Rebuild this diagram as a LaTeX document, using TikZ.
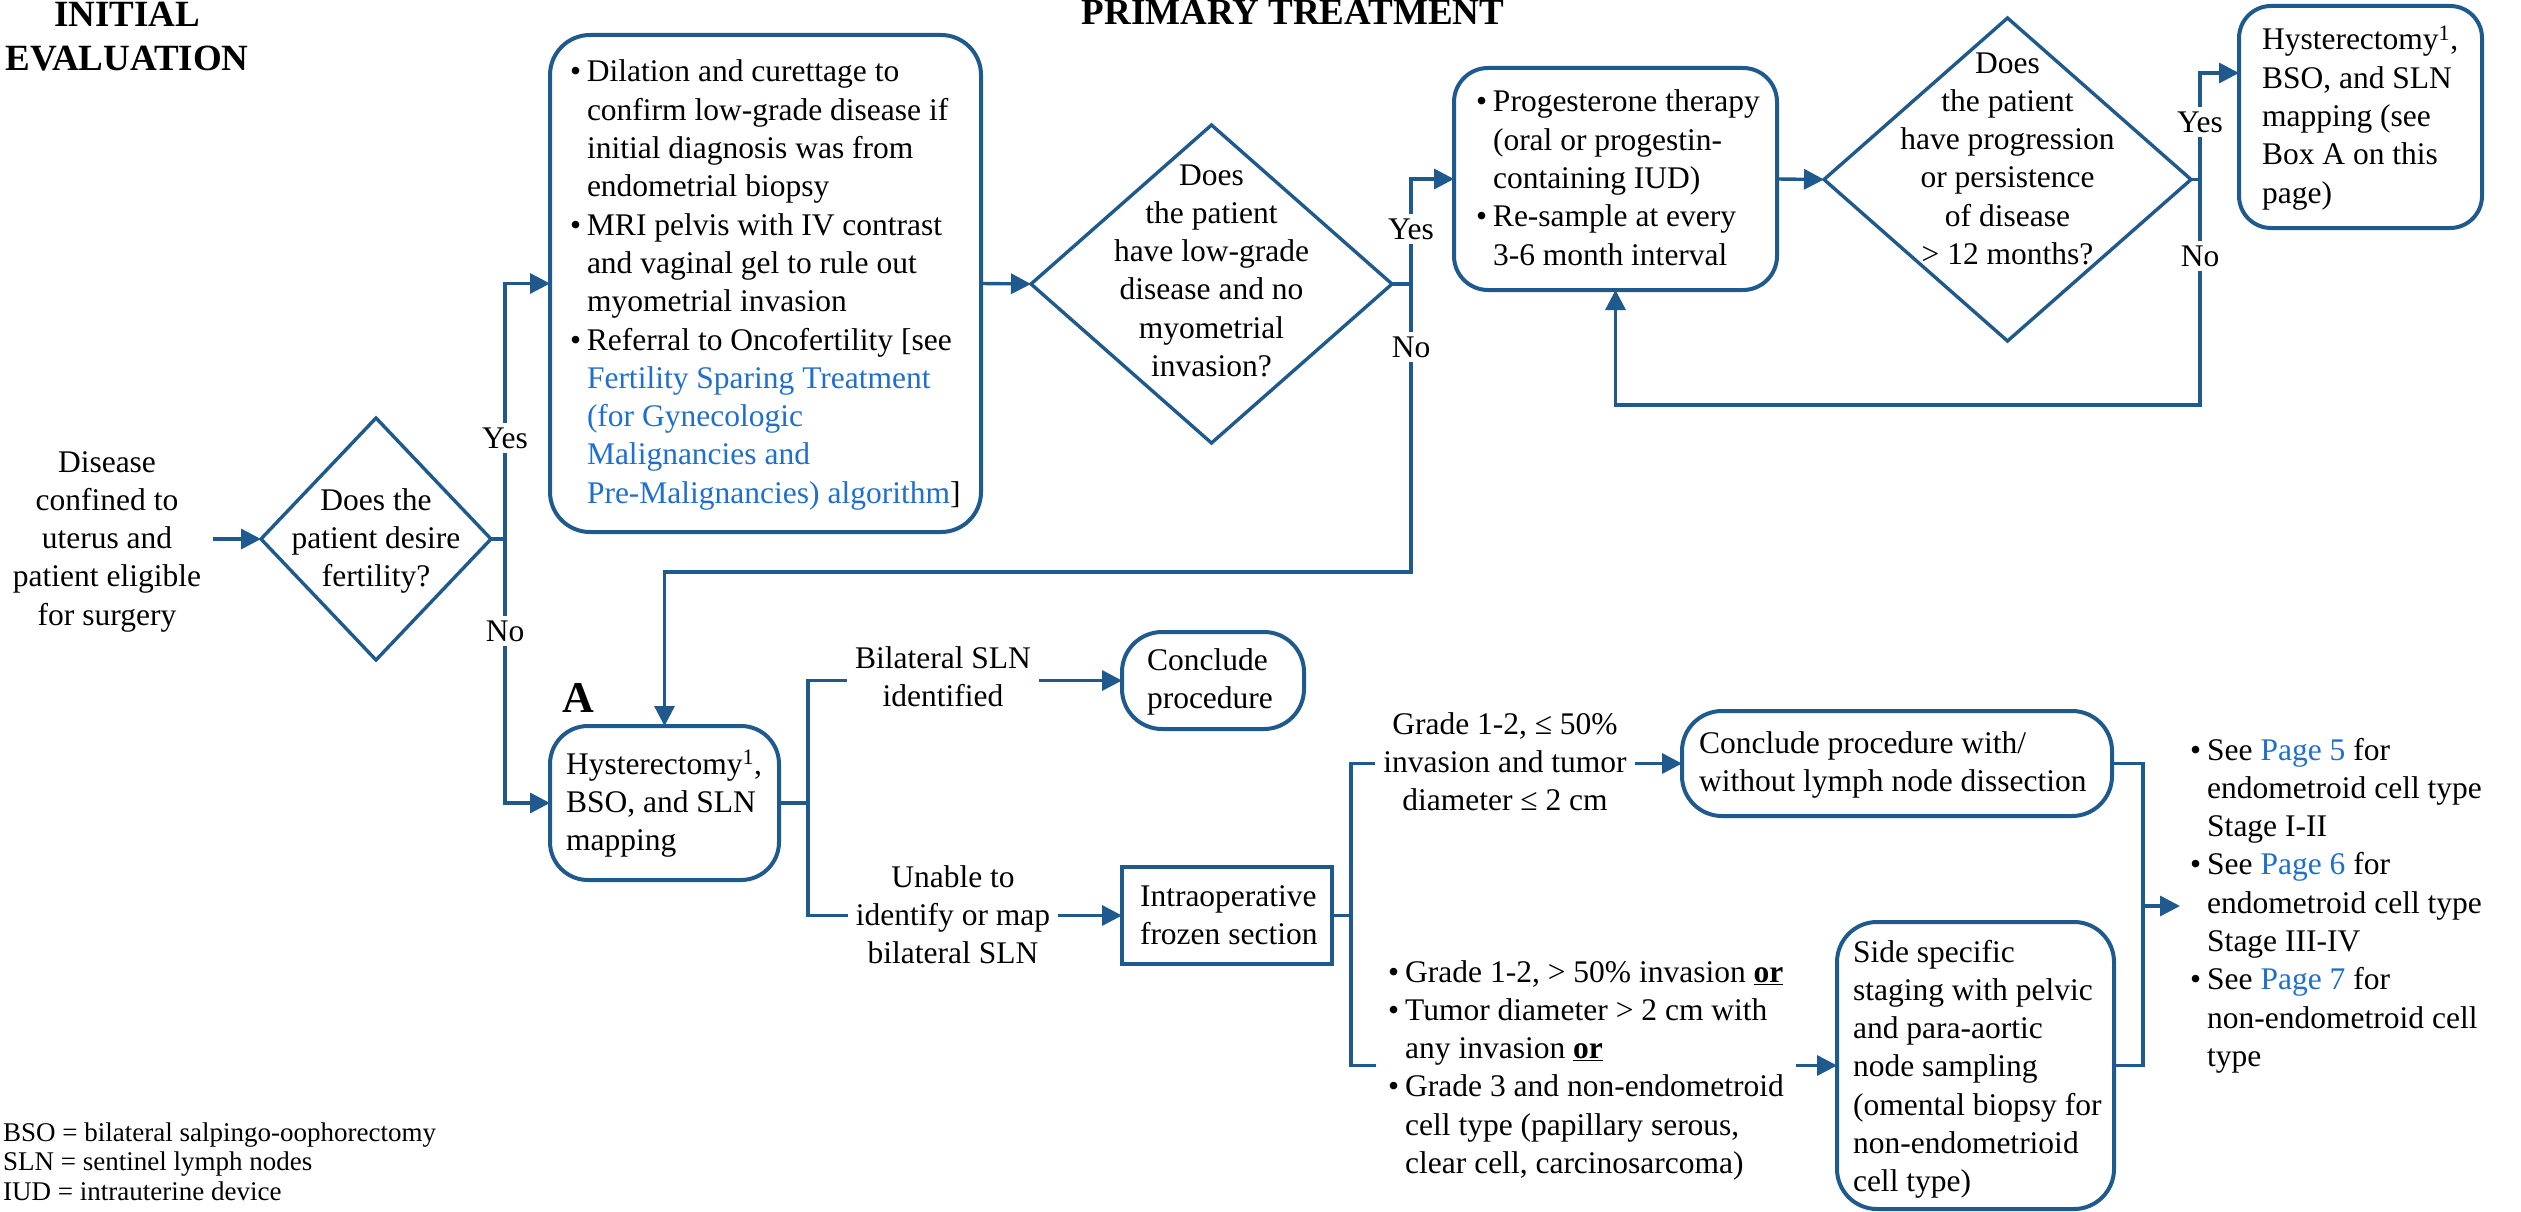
\documentclass[tikz,border=0pt]{standalone}
\usepackage{fontspec}
\setmainfont{Liberation Serif}
\usetikzlibrary{arrows.meta,shapes.geometric}

\definecolor{dblue}{RGB}{31,90,142}
\definecolor{lblue}{RGB}{31,111,207}

\newcommand\bodysz{\fontsize{31.5pt}{38.3pt}\selectfont}
\newcommand\headsz{\fontsize{37pt}{44pt}\selectfont\bfseries}
\newcommand\Ltab[1]{\begin{tabular}[t]{@{}l@{}}#1\end{tabular}}
\newcommand\Ctab[1]{\begin{tabular}[t]{@{}c@{}}#1\end{tabular}}
\newcommand\bul{\makebox[17pt][l]{\textbullet}}
\newcommand\hin{\hspace*{17pt}}
\newcommand\lnk[1]{\textcolor{lblue}{#1}}
\newcommand\ulb[1]{\underline{\textbf{#1}}}

\tikzset{
  rbox/.style={draw=dblue, line width=4pt, rounded corners=38pt, fill=white,
    inner ysep=0pt, outer sep=0pt, anchor=north west, font=\bodysz},
  sbox/.style={draw=dblue, line width=4pt, fill=white,
    inner ysep=0pt, outer sep=0pt, anchor=north west, font=\bodysz},
  dia/.style={diamond, draw=dblue, line width=3.4pt, inner sep=0pt, outer sep=0pt,
    text height=0pt, text depth=0pt, font=\bodysz},
  plain/.style={inner sep=0pt, font=\bodysz},
  head/.style={inner sep=0pt, font=\headsz, anchor=base},
  con/.style={draw=dblue, line width=3.4pt},
  arr/.style={con, -{Triangle[length=20pt,width=20pt]}},
  yn/.style={fill=white, inner xsep=4pt, inner ysep=5pt, font=\bodysz},
  elab/.style={fill=white, inner xsep=8pt, inner ysep=2pt, font=\bodysz, anchor=base}
}

\begin{document}
\begin{tikzpicture}[x=1pt,y=-1pt]
\useasboundingbox (0,0) rectangle (2521,1212);
\fill[white] (0,0) rectangle (2521,1212);

% column headings
\node[head] (hinit) at (127,27) {\Ctab{INITIAL\\EVALUATION}};
\node[head] (hprim) at (1293,25) {PRIMARY TREATMENT};

% starting condition
\node[plain, anchor=base, inner xsep=12pt] (st) at (107,472)
  {\Ctab{Disease\\confined to\\uterus and\\patient eligible\\for surgery}};

% decision: fertility
\node[dia, minimum width=230pt, minimum height=242pt] (d1) at (376,539)
  {\makebox[0pt]{\raisebox{29pt}{\Ctab{Does the\\patient desire\\fertility?}}}};

% fertility-sparing work-up
\node[rbox, rounded corners=40pt, inner xsep=20pt, text height=47pt, text depth=450pt] (b1) at (550,35)
  {\makebox[391pt][l]{\Ltab{%
  \bul Dilation and curettage to\\
  \hin confirm low-grade disease if\\
  \hin initial diagnosis was from\\
  \hin endometrial biopsy\\
  \bul MRI pelvis with IV contrast\\
  \hin and vaginal gel to rule out\\
  \hin myometrial invasion\\
  \bul Referral to Oncofertility [see\\
  \hin \lnk{Fertility Sparing Treatment}\\
  \hin \lnk{(for Gynecologic}\\
  \hin \lnk{Malignancies and}\\
  \hin \lnk{Pre-Malignancies) algorithm}]}}};

% decision: low-grade disease
\node[dia, minimum width=361pt, minimum height=318pt] (d2) at (1211.5,284)
  {\makebox[0pt]{\raisebox{99pt}{\Ctab{Does\\the patient\\have low-grade\\disease and no\\myometrial\\invasion?}}}};

% progesterone therapy
\node[rbox, rounded corners=34pt, inner xsep=22pt, text height=44pt, text depth=178pt] (b3) at (1454,68)
  {\makebox[279pt][l]{\Ltab{%
  \bul Progesterone therapy\\
  \hin(oral or progestin-\\
  \hin containing IUD)\\
  \bul Re-sample at every\\
  \hin 3-6 month interval}}};

% decision: progression
\node[dia, minimum width=367pt, minimum height=323pt] (d3) at (2007.5,179.5)
  {\makebox[0pt]{\raisebox{106.5pt}{\Ctab{Does\\the patient\\have progression\\or persistence\\of disease\\> 12 months?}}}};

% hysterectomy (after failed conservative treatment)
\node[rbox, rounded corners=32pt, inner xsep=23pt, text height=44pt, text depth=178pt] (b5) at (2239,6)
  {\makebox[197pt][l]{\Ltab{Hysterectomy\textsuperscript{1},\\BSO, and SLN\\mapping (see\\Box A on this\\page)}}};

% box A
\node[inner sep=0pt, font=\fontsize{44pt}{44pt}\selectfont\bfseries, anchor=base] (la) at (578,712) {A};
\node[rbox, inner xsep=16pt, text height=48pt, text depth=106pt] (hA) at (550,726)
  {\makebox[197pt][l]{\Ltab{Hysterectomy\textsuperscript{1},\\BSO, and SLN\\mapping}}};

\node[rbox, rounded corners=40pt, inner xsep=25pt, text height=38pt, text depth=59pt] (cp) at (1122,632)
  {\makebox[132pt][l]{\Ltab{Conclude\\procedure}}};

\node[sbox, inner xsep=18pt, text height=39pt, text depth=58pt] (io) at (1122,867)
  {\makebox[174pt][l]{\Ltab{Intraoperative\\frozen section}}};

\node[rbox, rounded corners=40pt, inner xsep=17pt, text height=42pt, text depth=63pt] (cw) at (1682,711)
  {\makebox[396pt][l]{\Ltab{Conclude procedure with/\\without lymph node dissection}}};

\node[rbox, rounded corners=40pt, inner xsep=16pt, text height=40pt, text depth=247pt] (ss) at (1837,922)
  {\makebox[245pt][l]{\Ltab{Side specific\\staging with pelvic\\and para-aortic\\node sampling\\(omental biopsy for\\non-endometrioid\\cell type)}}};

% follow-up references
\node[plain, anchor=base west, inner xsep=10pt] (rl) at (2180,760)
  {\Ltab{%
  \bul See \lnk{Page 5} for\\
  \hin endometroid cell type\\
  \hin Stage I-II\\
  \bul See \lnk{Page 6} for\\
  \hin endometroid cell type\\
  \hin Stage III-IV\\
  \bul See \lnk{Page 7} for\\
  \hin non-endometroid cell\\
  \hin type}};

% abbreviations
\node[anchor=base west, inner sep=0pt, font=\fontsize{27pt}{29.5pt}\selectfont] (lg) at (3,1141)
  {\Ltab{BSO = bilateral salpingo-oophorectomy\\SLN = sentinel lymph nodes\\IUD = intrauterine device}};

% ---- connectors ----
\draw[arr] (st.east |- d1.west) -- (d1.west);

\coordinate (s1) at (505,539);
\draw[con] (d1.east) -- (s1);
\draw[arr] (s1) |- (b1.west);
\draw[arr] (s1) |- (hA.west);

\draw[arr] (b1.east) -- (d2.west);

\coordinate (s2) at (1411,284);
\coordinate (k2) at (1411,572);
\draw[con] (d2.east) -- (s2);
\draw[arr] (s2) |- (b3.west);
\draw[arr] (s2) -- (k2) -| (hA.north);

\draw[arr] (b3.east) -- (d3.west);

\coordinate (s3) at (2200,179.5);
\coordinate (k3) at (2200,405);
\draw[con] (d3.east) -- (s3);
\draw[arr] (s3) |- ([yshift=44pt]b5.west);
\draw[arr] (s3) -- (k3) -| (b3.south);

\coordinate (s4) at (808,803);
\draw[con] (hA.east) -- (s4);
\draw[arr] (s4) |- (cp.west);
\draw[arr] (s4) |- (io.west);

\coordinate (s5) at (1351,915.5);
\draw[con] (io.east) -- (s5);
\draw[arr] (s5) |- (cw.west);
\draw[arr] (s5) |- (ss.west);

\coordinate (s6) at (2143,906);
\draw[con] (cw.east) -| (s6);
\draw[con] (ss.east) -| (s6);
\draw[arr] (s6) -- (s6 -| rl.west);

% ---- branch labels ----
\node[yn] (y1) at (505,438) {Yes};
\node[yn] (n1) at (505,631) {No};
\node[yn] (y2) at (1411,229) {Yes};
\node[yn] (n2) at (1411,347) {No};
\node[yn] (y3) at (2200,122) {Yes};
\node[yn] (n3) at (2200,256) {No};

\node[elab] (e1) at (943,668) {\Ctab{Bilateral SLN\\identified}};
\node[elab] (e2) at (953,887) {\Ctab{Unable to\\identify or map\\bilateral SLN}};
\node[elab] (e3) at (1505,734) {\Ctab{Grade 1-2, ≤ 50\%\\invasion and tumor\\diameter ≤ 2 cm}};
\node[elab, anchor=base west, inner xsep=12pt] (e4) at (1376,982)
  {\Ltab{%
  \bul Grade 1-2, > 50\% invasion \ulb{or}\\
  \bul Tumor diameter > 2 cm with\\
  \hin any invasion \ulb{or}\\
  \bul Grade 3 and non-endometroid\\
  \hin cell type (papillary serous,\\
  \hin clear cell, carcinosarcoma)}};
\end{tikzpicture}
\end{document}
